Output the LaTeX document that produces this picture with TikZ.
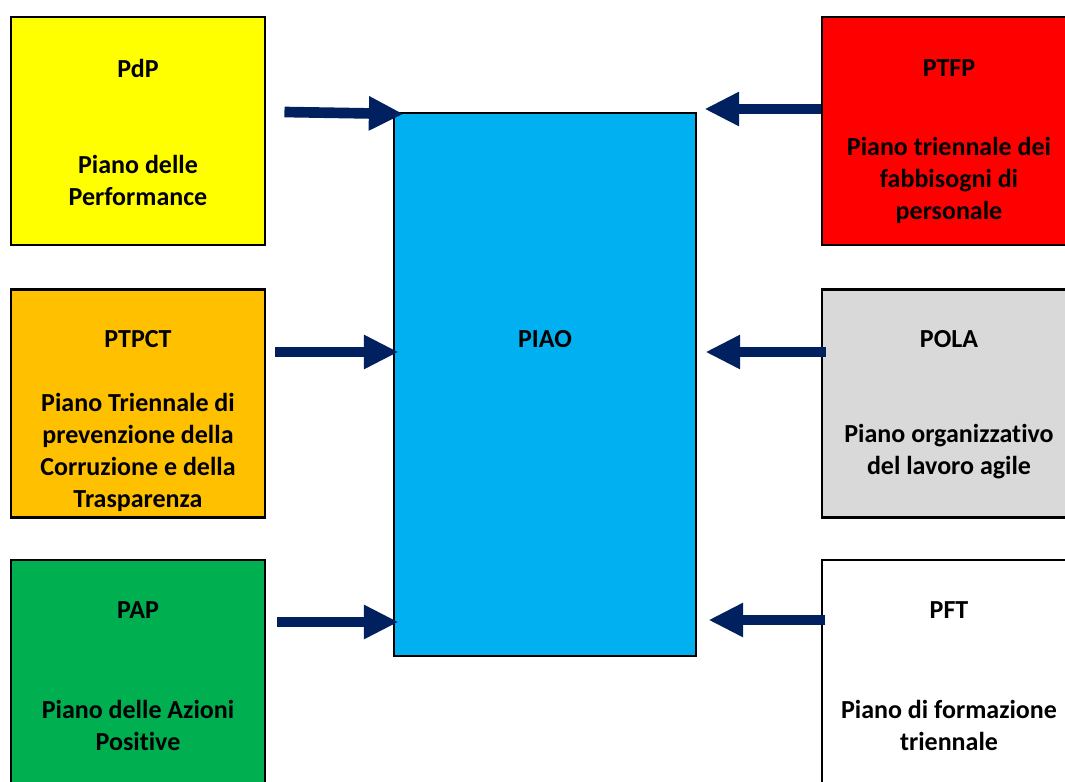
\documentclass[tikz,border=0pt]{standalone}
\usepackage{fontspec}
\setmainfont{Carlito}[Ligatures=NoCommon]
\usetikzlibrary{arrows.meta}

\definecolor{pdpyellow}{HTML}{FFFF00}
\definecolor{ptpctorange}{HTML}{FFC000}
\definecolor{papgreen}{HTML}{00B050}
\definecolor{piaoblue}{HTML}{00B0F0}
\definecolor{ptfpred}{HTML}{FF0000}
\definecolor{polagray}{HTML}{D9D9D9}
\definecolor{feednavy}{HTML}{002060}

\begin{document}
\begin{tikzpicture}[x=0.75pt,y=-0.75pt,
    plan/.style={rectangle, draw, line width=2.2pt,
                 minimum width=190.5pt, minimum height=171pt},
    txt/.style={font=\bfseries\fontsize{19.5}{24}\selectfont, align=center},
    feed/.style={draw=feednavy, line width=8pt,
                 -{Triangle[length=26pt,width=24pt]}}]

    \useasboundingbox (0,0) rectangle (1065,782);
    \clip (0,0) rectangle (1065,782);

    % left column
    \node[plan, fill = pdpyellow] (PdP) at (138,131) {};
    \node[txt] at ([yshift=-39.5pt]PdP.north) {PdP};
    \node[txt] at ([yshift=-124pt]PdP.north) {Piano delle\\Performance};

    \node[plan, fill = ptpctorange] (PTPCT) at (138,403.5) {};
    \node[txt] at ([yshift=-38pt]PTPCT.north) {PTPCT};
    \node[txt] at ([yshift=-123pt]PTPCT.north)
        {Piano Triennale di\\prevenzione della\\Corruzione e della\\Trasparenza};

    \node[plan, fill = papgreen] (PAP) at (138,674) {};
    \node[txt] at ([yshift=-39pt]PAP.north) {PAP};
    \node[txt] at ([yshift=-125pt]PAP.north) {Piano delle Azioni\\Positive};

    % centre
    \node[rectangle,
          draw,
          line width = 2.2pt,
          fill = piaoblue,
          minimum width = 226.5pt,
          minimum height = 407.25pt] (PIAO) at (545,384.5) {};
    \node[txt] at ([yshift=-170.75pt]PIAO.north) {PIAO};

    % right column
    \node[plan, fill = ptfpred] (PTFP) at (949,131) {};
    \node[txt] at ([yshift=-39.5pt]PTFP.north) {PTFP};
    \node[txt] at ([yshift=-124pt]PTFP.north)
        {Piano triennale dei\\fabbisogni di\\personale};

    \node[plan, fill = polagray] (POLA) at (949,403.5) {};
    \node[txt] at ([yshift=-38pt]POLA.north) {POLA};
    \node[txt] at ([yshift=-123pt]POLA.north)
        {Piano organizzativo\\del lavoro agile};

    \node[plan, fill = white] (PFT) at (949,674) {};
    \node[txt] at ([yshift=-39pt]PFT.north) {PFT};
    \node[txt] at ([yshift=-125pt]PFT.north)
        {Piano di formazione\\triennale};

    % arrows into PIAO
    \draw[feed] ([shift={(18,-19)}]PdP.east) -- ([shift={(11,-270.5)}]PIAO.west);
    \draw[feed] ([shift={(9,-51.5)}]PTPCT.east) -- ([shift={(6,-32.5)}]PIAO.west);
    \draw[feed] ([shift={(11,-52)}]PAP.east) -- ([shift={(6,237.5)}]PIAO.west);

    \draw[feed] ([shift={(0,-22)}]PTFP.west) -- ([shift={(7,-275.5)}]PIAO.east);
    \draw[feed] ([shift={(5,-51.5)}]POLA.west) -- ([shift={(8,-32.5)}]PIAO.east);
    \draw[feed] ([shift={(4,-54)}]PFT.west) -- ([shift={(11,235.5)}]PIAO.east);

\end{tikzpicture}
\end{document}
